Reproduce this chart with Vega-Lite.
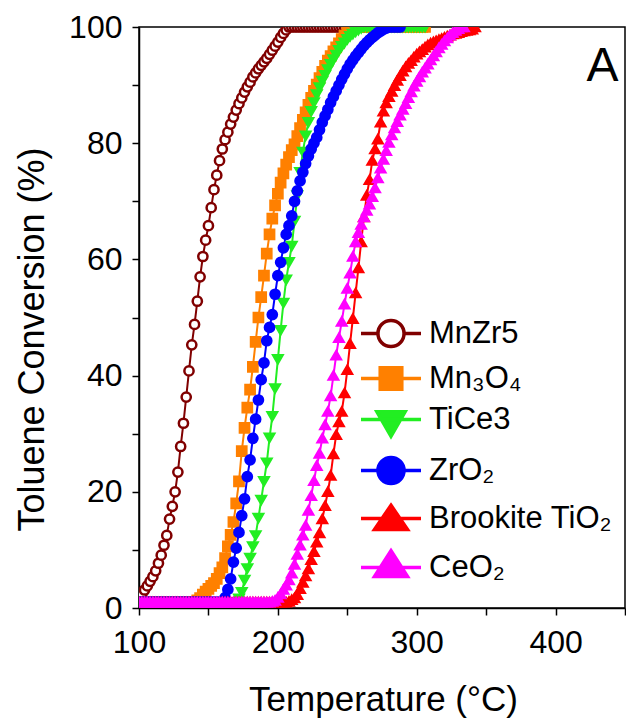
{
  "$schema": "https://vega.github.io/schema/vega-lite/v6.json",
  "width": 486,
  "height": 581,
  "autosize": {"type": "none"},
  "padding": {"left": 139, "top": 27, "right": 1, "bottom": 114},
  "background": "white",
  "data": {"values": [
    {"s":"MnZr5","t":100,"c":1.2},{"s":"MnZr5","t":102,"c":2.3},{"s":"MnZr5","t":104,"c":3.1},{"s":"MnZr5","t":106,"c":3.8},{"s":"MnZr5","t":108,"c":4.6},{"s":"MnZr5","t":110,"c":5.4},{"s":"MnZr5","t":112,"c":6.4},{"s":"MnZr5","t":114,"c":7.7},{"s":"MnZr5","t":116,"c":9.1},{"s":"MnZr5","t":118,"c":10.8},{"s":"MnZr5","t":120,"c":12.5},{"s":"MnZr5","t":122,"c":15.3},{"s":"MnZr5","t":124,"c":17.5},{"s":"MnZr5","t":126,"c":20.0},{"s":"MnZr5","t":128,"c":23.4},{"s":"MnZr5","t":130,"c":27.8},{"s":"MnZr5","t":132,"c":31.8},{"s":"MnZr5","t":134,"c":36.3},{"s":"MnZr5","t":136,"c":40.8},{"s":"MnZr5","t":138,"c":45.3},{"s":"MnZr5","t":140,"c":48.8},{"s":"MnZr5","t":142,"c":52.8},{"s":"MnZr5","t":144,"c":57.0},{"s":"MnZr5","t":146,"c":60.5},{"s":"MnZr5","t":148,"c":63.3},{"s":"MnZr5","t":150,"c":65.8},{"s":"MnZr5","t":152,"c":68.9},{"s":"MnZr5","t":154,"c":72.0},{"s":"MnZr5","t":156,"c":74.5},{"s":"MnZr5","t":158,"c":77.0},{"s":"MnZr5","t":160,"c":79.0},{"s":"MnZr5","t":162,"c":80.6},{"s":"MnZr5","t":164,"c":81.9},{"s":"MnZr5","t":166,"c":83.3},{"s":"MnZr5","t":168,"c":84.5},{"s":"MnZr5","t":170,"c":85.7},{"s":"MnZr5","t":172,"c":86.8},{"s":"MnZr5","t":174,"c":87.8},{"s":"MnZr5","t":176,"c":88.8},{"s":"MnZr5","t":178,"c":89.7},{"s":"MnZr5","t":180,"c":90.5},{"s":"MnZr5","t":182,"c":91.4},{"s":"MnZr5","t":184,"c":92.1},{"s":"MnZr5","t":186,"c":92.8},{"s":"MnZr5","t":188,"c":93.4},{"s":"MnZr5","t":190,"c":94.0},{"s":"MnZr5","t":192,"c":94.6},{"s":"MnZr5","t":194,"c":95.3},{"s":"MnZr5","t":196,"c":96.0},{"s":"MnZr5","t":198,"c":96.7},{"s":"MnZr5","t":200,"c":97.4},{"s":"MnZr5","t":202,"c":98.2},{"s":"MnZr5","t":204,"c":98.9},{"s":"MnZr5","t":206,"c":99.5},{"s":"MnZr5","t":208,"c":100},{"s":"MnZr5","t":210,"c":100},{"s":"MnZr5","t":212,"c":100},{"s":"MnZr5","t":214,"c":100},{"s":"MnZr5","t":216,"c":100},{"s":"MnZr5","t":218,"c":100},{"s":"MnZr5","t":220,"c":100},{"s":"MnZr5","t":222,"c":100},{"s":"MnZr5","t":224,"c":100},{"s":"MnZr5","t":226,"c":100},{"s":"MnZr5","t":228,"c":100},{"s":"MnZr5","t":230,"c":100},{"s":"MnZr5","t":232,"c":100},{"s":"MnZr5","t":234,"c":100},{"s":"MnZr5","t":236,"c":100},{"s":"MnZr5","t":238,"c":100},{"s":"MnZr5","t":240,"c":100},{"s":"MnZr5","t":242,"c":100},{"s":"MnZr5","t":244,"c":100},{"s":"MnZr5","t":246,"c":100},{"s":"MnZr5","t":248,"c":100},{"s":"MnZr5","t":250,"c":100},{"s":"MnZr5","t":252,"c":100},{"s":"MnZr5","t":254,"c":100},{"s":"MnZr5","t":256,"c":100},{"s":"MnZr5","t":258,"c":100},{"s":"MnZr5","t":260,"c":100},{"s":"MnZr5","t":262,"c":100},

    {"s":"Mn₃O₄","t":100,"c":1},{"s":"Mn₃O₄","t":102,"c":1},{"s":"Mn₃O₄","t":104,"c":1},{"s":"Mn₃O₄","t":106,"c":1},{"s":"Mn₃O₄","t":108,"c":1},{"s":"Mn₃O₄","t":110,"c":1},{"s":"Mn₃O₄","t":112,"c":1},{"s":"Mn₃O₄","t":114,"c":1},{"s":"Mn₃O₄","t":116,"c":1},{"s":"Mn₃O₄","t":118,"c":1},{"s":"Mn₃O₄","t":120,"c":1},{"s":"Mn₃O₄","t":122,"c":1},{"s":"Mn₃O₄","t":124,"c":1},{"s":"Mn₃O₄","t":126,"c":1},{"s":"Mn₃O₄","t":128,"c":1},{"s":"Mn₃O₄","t":130,"c":1},{"s":"Mn₃O₄","t":132,"c":1},{"s":"Mn₃O₄","t":134,"c":1},{"s":"Mn₃O₄","t":136,"c":1},{"s":"Mn₃O₄","t":138,"c":1},{"s":"Mn₃O₄","t":140,"c":1},{"s":"Mn₃O₄","t":142,"c":1.3},{"s":"Mn₃O₄","t":144,"c":1.7},{"s":"Mn₃O₄","t":146,"c":2.3},{"s":"Mn₃O₄","t":148,"c":2.8},{"s":"Mn₃O₄","t":150,"c":3.3},{"s":"Mn₃O₄","t":152,"c":3.8},{"s":"Mn₃O₄","t":154,"c":4.3},{"s":"Mn₃O₄","t":156,"c":5.0},{"s":"Mn₃O₄","t":158,"c":6.0},{"s":"Mn₃O₄","t":160,"c":7.0},{"s":"Mn₃O₄","t":162,"c":8.6},{"s":"Mn₃O₄","t":164,"c":10.6},{"s":"Mn₃O₄","t":166,"c":12.6},{"s":"Mn₃O₄","t":168,"c":14.8},{"s":"Mn₃O₄","t":170,"c":18.0},{"s":"Mn₃O₄","t":172,"c":21.8},{"s":"Mn₃O₄","t":174,"c":27.0},{"s":"Mn₃O₄","t":176,"c":31.0},{"s":"Mn₃O₄","t":178,"c":34.5},{"s":"Mn₃O₄","t":180,"c":37.6},{"s":"Mn₃O₄","t":182,"c":41.5},{"s":"Mn₃O₄","t":184,"c":45.8},{"s":"Mn₃O₄","t":186,"c":50.0},{"s":"Mn₃O₄","t":188,"c":53.5},{"s":"Mn₃O₄","t":190,"c":57.2},{"s":"Mn₃O₄","t":192,"c":61.0},{"s":"Mn₃O₄","t":194,"c":64.3},{"s":"Mn₃O₄","t":196,"c":67.0},{"s":"Mn₃O₄","t":198,"c":69.3},{"s":"Mn₃O₄","t":200,"c":71.3},{"s":"Mn₃O₄","t":202,"c":73.2},{"s":"Mn₃O₄","t":204,"c":74.8},{"s":"Mn₃O₄","t":206,"c":76.3},{"s":"Mn₃O₄","t":208,"c":77.6},{"s":"Mn₃O₄","t":210,"c":78.8},{"s":"Mn₃O₄","t":212,"c":79.8},{"s":"Mn₃O₄","t":214,"c":81.2},{"s":"Mn₃O₄","t":216,"c":82.6},{"s":"Mn₃O₄","t":218,"c":84.0},{"s":"Mn₃O₄","t":220,"c":85.3},{"s":"Mn₃O₄","t":222,"c":86.6},{"s":"Mn₃O₄","t":224,"c":87.8},{"s":"Mn₃O₄","t":226,"c":89.0},{"s":"Mn₃O₄","t":228,"c":90.1},{"s":"Mn₃O₄","t":230,"c":91.2},{"s":"Mn₃O₄","t":232,"c":92.3},{"s":"Mn₃O₄","t":234,"c":93.3},{"s":"Mn₃O₄","t":236,"c":94.2},{"s":"Mn₃O₄","t":238,"c":95.0},{"s":"Mn₃O₄","t":240,"c":95.8},{"s":"Mn₃O₄","t":242,"c":96.5},{"s":"Mn₃O₄","t":244,"c":97.2},{"s":"Mn₃O₄","t":246,"c":97.9},{"s":"Mn₃O₄","t":248,"c":98.5},{"s":"Mn₃O₄","t":250,"c":99.0},{"s":"Mn₃O₄","t":252,"c":99.5},{"s":"Mn₃O₄","t":254,"c":99.8},{"s":"Mn₃O₄","t":256,"c":100},{"s":"Mn₃O₄","t":258,"c":100},{"s":"Mn₃O₄","t":260,"c":100},{"s":"Mn₃O₄","t":262,"c":100},{"s":"Mn₃O₄","t":264,"c":100},{"s":"Mn₃O₄","t":266,"c":100},{"s":"Mn₃O₄","t":268,"c":100},{"s":"Mn₃O₄","t":270,"c":100},{"s":"Mn₃O₄","t":272,"c":100},{"s":"Mn₃O₄","t":274,"c":100},{"s":"Mn₃O₄","t":276,"c":100},{"s":"Mn₃O₄","t":278,"c":100},{"s":"Mn₃O₄","t":280,"c":100},{"s":"Mn₃O₄","t":282,"c":100},{"s":"Mn₃O₄","t":284,"c":100},{"s":"Mn₃O₄","t":286,"c":100},{"s":"Mn₃O₄","t":288,"c":100},{"s":"Mn₃O₄","t":290,"c":100},{"s":"Mn₃O₄","t":292,"c":100},{"s":"Mn₃O₄","t":294,"c":100},{"s":"Mn₃O₄","t":296,"c":100},{"s":"Mn₃O₄","t":298,"c":100},{"s":"Mn₃O₄","t":300,"c":100},{"s":"Mn₃O₄","t":302,"c":100},{"s":"Mn₃O₄","t":304,"c":100},{"s":"Mn₃O₄","t":306,"c":100},

    {"s":"TiCe3","t":100,"c":1},{"s":"TiCe3","t":102,"c":1},{"s":"TiCe3","t":104,"c":1},{"s":"TiCe3","t":106,"c":1},{"s":"TiCe3","t":108,"c":1},{"s":"TiCe3","t":110,"c":1},{"s":"TiCe3","t":112,"c":1},{"s":"TiCe3","t":114,"c":1},{"s":"TiCe3","t":116,"c":1},{"s":"TiCe3","t":118,"c":1},{"s":"TiCe3","t":120,"c":1},{"s":"TiCe3","t":122,"c":1},{"s":"TiCe3","t":124,"c":1},{"s":"TiCe3","t":126,"c":1},{"s":"TiCe3","t":128,"c":1},{"s":"TiCe3","t":130,"c":1},{"s":"TiCe3","t":132,"c":1},{"s":"TiCe3","t":134,"c":1},{"s":"TiCe3","t":136,"c":1},{"s":"TiCe3","t":138,"c":1},{"s":"TiCe3","t":140,"c":1},{"s":"TiCe3","t":142,"c":1},{"s":"TiCe3","t":144,"c":1},{"s":"TiCe3","t":146,"c":1},{"s":"TiCe3","t":148,"c":1},{"s":"TiCe3","t":150,"c":1},{"s":"TiCe3","t":152,"c":1},{"s":"TiCe3","t":154,"c":1},{"s":"TiCe3","t":156,"c":1},{"s":"TiCe3","t":158,"c":1},{"s":"TiCe3","t":160,"c":1},{"s":"TiCe3","t":162,"c":1},{"s":"TiCe3","t":164,"c":1},{"s":"TiCe3","t":166,"c":1},{"s":"TiCe3","t":168,"c":1},{"s":"TiCe3","t":170,"c":1},{"s":"TiCe3","t":172,"c":1.6},{"s":"TiCe3","t":174,"c":2.7},{"s":"TiCe3","t":176,"c":4.8},{"s":"TiCe3","t":178,"c":6.8},{"s":"TiCe3","t":180,"c":8.6},{"s":"TiCe3","t":182,"c":10.6},{"s":"TiCe3","t":184,"c":12.5},{"s":"TiCe3","t":186,"c":15.5},{"s":"TiCe3","t":188,"c":18.6},{"s":"TiCe3","t":190,"c":21.8},{"s":"TiCe3","t":192,"c":25.0},{"s":"TiCe3","t":194,"c":29.3},{"s":"TiCe3","t":196,"c":33.0},{"s":"TiCe3","t":198,"c":37.8},{"s":"TiCe3","t":200,"c":42.8},{"s":"TiCe3","t":202,"c":47.8},{"s":"TiCe3","t":204,"c":52.5},{"s":"TiCe3","t":206,"c":56.5},{"s":"TiCe3","t":208,"c":59.5},{"s":"TiCe3","t":210,"c":62.3},{"s":"TiCe3","t":212,"c":66.6},{"s":"TiCe3","t":214,"c":71.0},{"s":"TiCe3","t":216,"c":75.0},{"s":"TiCe3","t":218,"c":78.5},{"s":"TiCe3","t":220,"c":81.3},{"s":"TiCe3","t":222,"c":83.6},{"s":"TiCe3","t":224,"c":85.5},{"s":"TiCe3","t":226,"c":87.0},{"s":"TiCe3","t":228,"c":88.4},{"s":"TiCe3","t":230,"c":89.6},{"s":"TiCe3","t":232,"c":90.7},{"s":"TiCe3","t":234,"c":91.7},{"s":"TiCe3","t":236,"c":92.7},{"s":"TiCe3","t":238,"c":93.6},{"s":"TiCe3","t":240,"c":94.4},{"s":"TiCe3","t":242,"c":95.2},{"s":"TiCe3","t":244,"c":96.0},{"s":"TiCe3","t":246,"c":96.7},{"s":"TiCe3","t":248,"c":97.3},{"s":"TiCe3","t":250,"c":97.9},{"s":"TiCe3","t":252,"c":98.4},{"s":"TiCe3","t":254,"c":98.8},{"s":"TiCe3","t":256,"c":99.2},{"s":"TiCe3","t":258,"c":99.5},{"s":"TiCe3","t":260,"c":99.8},{"s":"TiCe3","t":262,"c":100},{"s":"TiCe3","t":264,"c":100},{"s":"TiCe3","t":266,"c":100},{"s":"TiCe3","t":268,"c":100},{"s":"TiCe3","t":270,"c":100},{"s":"TiCe3","t":272,"c":100},{"s":"TiCe3","t":274,"c":100},{"s":"TiCe3","t":276,"c":100},{"s":"TiCe3","t":278,"c":100},{"s":"TiCe3","t":280,"c":100},{"s":"TiCe3","t":282,"c":100},{"s":"TiCe3","t":284,"c":100},{"s":"TiCe3","t":286,"c":100},{"s":"TiCe3","t":288,"c":100},{"s":"TiCe3","t":290,"c":100},{"s":"TiCe3","t":292,"c":100},{"s":"TiCe3","t":294,"c":100},{"s":"TiCe3","t":296,"c":100},{"s":"TiCe3","t":298,"c":100},{"s":"TiCe3","t":300,"c":100},{"s":"TiCe3","t":302,"c":100},{"s":"TiCe3","t":304,"c":100},{"s":"TiCe3","t":306,"c":100},

    {"s":"ZrO₂","t":100,"c":1},{"s":"ZrO₂","t":102,"c":1},{"s":"ZrO₂","t":104,"c":1},{"s":"ZrO₂","t":106,"c":1},{"s":"ZrO₂","t":108,"c":1},{"s":"ZrO₂","t":110,"c":1},{"s":"ZrO₂","t":112,"c":1},{"s":"ZrO₂","t":114,"c":1},{"s":"ZrO₂","t":116,"c":1},{"s":"ZrO₂","t":118,"c":1},{"s":"ZrO₂","t":120,"c":1},{"s":"ZrO₂","t":122,"c":1},{"s":"ZrO₂","t":124,"c":1},{"s":"ZrO₂","t":126,"c":1},{"s":"ZrO₂","t":128,"c":1},{"s":"ZrO₂","t":130,"c":1},{"s":"ZrO₂","t":132,"c":1},{"s":"ZrO₂","t":134,"c":1},{"s":"ZrO₂","t":136,"c":1},{"s":"ZrO₂","t":138,"c":1},{"s":"ZrO₂","t":140,"c":1},{"s":"ZrO₂","t":142,"c":1},{"s":"ZrO₂","t":144,"c":1},{"s":"ZrO₂","t":146,"c":1},{"s":"ZrO₂","t":148,"c":1},{"s":"ZrO₂","t":150,"c":1},{"s":"ZrO₂","t":152,"c":1},{"s":"ZrO₂","t":154,"c":1},{"s":"ZrO₂","t":156,"c":1},{"s":"ZrO₂","t":158,"c":1},{"s":"ZrO₂","t":160,"c":1},{"s":"ZrO₂","t":162,"c":1.8},{"s":"ZrO₂","t":164,"c":3.2},{"s":"ZrO₂","t":166,"c":5.0},{"s":"ZrO₂","t":168,"c":7.9},{"s":"ZrO₂","t":170,"c":10.3},{"s":"ZrO₂","t":172,"c":13.0},{"s":"ZrO₂","t":174,"c":15.9},{"s":"ZrO₂","t":176,"c":18.8},{"s":"ZrO₂","t":178,"c":22.6},{"s":"ZrO₂","t":180,"c":25.5},{"s":"ZrO₂","t":182,"c":29.2},{"s":"ZrO₂","t":184,"c":32.5},{"s":"ZrO₂","t":186,"c":35.8},{"s":"ZrO₂","t":188,"c":39.3},{"s":"ZrO₂","t":190,"c":42.2},{"s":"ZrO₂","t":192,"c":46.0},{"s":"ZrO₂","t":194,"c":48.3},{"s":"ZrO₂","t":196,"c":50.5},{"s":"ZrO₂","t":198,"c":54.0},{"s":"ZrO₂","t":200,"c":57.2},{"s":"ZrO₂","t":202,"c":59.5},{"s":"ZrO₂","t":204,"c":62.0},{"s":"ZrO₂","t":206,"c":64.3},{"s":"ZrO₂","t":208,"c":65.8},{"s":"ZrO₂","t":210,"c":67.5},{"s":"ZrO₂","t":212,"c":70.0},{"s":"ZrO₂","t":214,"c":71.8},{"s":"ZrO₂","t":216,"c":73.5},{"s":"ZrO₂","t":218,"c":75.0},{"s":"ZrO₂","t":220,"c":76.5},{"s":"ZrO₂","t":222,"c":77.8},{"s":"ZrO₂","t":224,"c":79.0},{"s":"ZrO₂","t":226,"c":80.0},{"s":"ZrO₂","t":228,"c":81.0},{"s":"ZrO₂","t":230,"c":82.3},{"s":"ZrO₂","t":232,"c":83.6},{"s":"ZrO₂","t":234,"c":84.7},{"s":"ZrO₂","t":236,"c":85.8},{"s":"ZrO₂","t":238,"c":87.0},{"s":"ZrO₂","t":240,"c":88.0},{"s":"ZrO₂","t":242,"c":89.0},{"s":"ZrO₂","t":244,"c":90.0},{"s":"ZrO₂","t":246,"c":91.0},{"s":"ZrO₂","t":248,"c":91.9},{"s":"ZrO₂","t":250,"c":92.8},{"s":"ZrO₂","t":252,"c":93.6},{"s":"ZrO₂","t":254,"c":94.3},{"s":"ZrO₂","t":256,"c":95.0},{"s":"ZrO₂","t":258,"c":95.6},{"s":"ZrO₂","t":260,"c":96.2},{"s":"ZrO₂","t":262,"c":96.8},{"s":"ZrO₂","t":264,"c":97.3},{"s":"ZrO₂","t":266,"c":97.8},{"s":"ZrO₂","t":268,"c":98.2},{"s":"ZrO₂","t":270,"c":98.6},{"s":"ZrO₂","t":272,"c":99.0},{"s":"ZrO₂","t":274,"c":99.3},{"s":"ZrO₂","t":276,"c":99.6},{"s":"ZrO₂","t":278,"c":99.8},{"s":"ZrO₂","t":280,"c":100},{"s":"ZrO₂","t":282,"c":100},{"s":"ZrO₂","t":284,"c":100},{"s":"ZrO₂","t":286,"c":100},{"s":"ZrO₂","t":288,"c":100},

    {"s":"Brookite TiO₂","t":100,"c":1},{"s":"Brookite TiO₂","t":102,"c":1},{"s":"Brookite TiO₂","t":104,"c":1},{"s":"Brookite TiO₂","t":106,"c":1},{"s":"Brookite TiO₂","t":108,"c":1},{"s":"Brookite TiO₂","t":110,"c":1},{"s":"Brookite TiO₂","t":112,"c":1},{"s":"Brookite TiO₂","t":114,"c":1},{"s":"Brookite TiO₂","t":116,"c":1},{"s":"Brookite TiO₂","t":118,"c":1},{"s":"Brookite TiO₂","t":120,"c":1},{"s":"Brookite TiO₂","t":122,"c":1},{"s":"Brookite TiO₂","t":124,"c":1},{"s":"Brookite TiO₂","t":126,"c":1},{"s":"Brookite TiO₂","t":128,"c":1},{"s":"Brookite TiO₂","t":130,"c":1},{"s":"Brookite TiO₂","t":132,"c":1},{"s":"Brookite TiO₂","t":134,"c":1},{"s":"Brookite TiO₂","t":136,"c":1},{"s":"Brookite TiO₂","t":138,"c":1},{"s":"Brookite TiO₂","t":140,"c":1},{"s":"Brookite TiO₂","t":142,"c":1},{"s":"Brookite TiO₂","t":144,"c":1},{"s":"Brookite TiO₂","t":146,"c":1},{"s":"Brookite TiO₂","t":148,"c":1},{"s":"Brookite TiO₂","t":150,"c":1},{"s":"Brookite TiO₂","t":152,"c":1},{"s":"Brookite TiO₂","t":154,"c":1},{"s":"Brookite TiO₂","t":156,"c":1},{"s":"Brookite TiO₂","t":158,"c":1},{"s":"Brookite TiO₂","t":160,"c":1},{"s":"Brookite TiO₂","t":162,"c":1},{"s":"Brookite TiO₂","t":164,"c":1},{"s":"Brookite TiO₂","t":166,"c":1},{"s":"Brookite TiO₂","t":168,"c":1},{"s":"Brookite TiO₂","t":170,"c":1},{"s":"Brookite TiO₂","t":172,"c":1},{"s":"Brookite TiO₂","t":174,"c":1},{"s":"Brookite TiO₂","t":176,"c":1},{"s":"Brookite TiO₂","t":178,"c":1},{"s":"Brookite TiO₂","t":180,"c":1},{"s":"Brookite TiO₂","t":182,"c":1},{"s":"Brookite TiO₂","t":184,"c":1},{"s":"Brookite TiO₂","t":186,"c":1},{"s":"Brookite TiO₂","t":188,"c":1},{"s":"Brookite TiO₂","t":190,"c":1},{"s":"Brookite TiO₂","t":192,"c":1},{"s":"Brookite TiO₂","t":194,"c":1},{"s":"Brookite TiO₂","t":196,"c":1},{"s":"Brookite TiO₂","t":198,"c":1},{"s":"Brookite TiO₂","t":200,"c":1},{"s":"Brookite TiO₂","t":202,"c":1},{"s":"Brookite TiO₂","t":204,"c":1},{"s":"Brookite TiO₂","t":206,"c":1},{"s":"Brookite TiO₂","t":208,"c":1.1},{"s":"Brookite TiO₂","t":210,"c":1.4},{"s":"Brookite TiO₂","t":212,"c":1.7},{"s":"Brookite TiO₂","t":214,"c":2.3},{"s":"Brookite TiO₂","t":216,"c":3.3},{"s":"Brookite TiO₂","t":218,"c":4.4},{"s":"Brookite TiO₂","t":220,"c":5.5},{"s":"Brookite TiO₂","t":222,"c":6.7},{"s":"Brookite TiO₂","t":224,"c":8.3},{"s":"Brookite TiO₂","t":226,"c":9.7},{"s":"Brookite TiO₂","t":228,"c":11.3},{"s":"Brookite TiO₂","t":230,"c":12.9},{"s":"Brookite TiO₂","t":232,"c":15.3},{"s":"Brookite TiO₂","t":234,"c":17.6},{"s":"Brookite TiO₂","t":236,"c":20.0},{"s":"Brookite TiO₂","t":238,"c":22.8},{"s":"Brookite TiO₂","t":240,"c":26.5},{"s":"Brookite TiO₂","t":242,"c":29.8},{"s":"Brookite TiO₂","t":244,"c":32.0},{"s":"Brookite TiO₂","t":246,"c":33.8},{"s":"Brookite TiO₂","t":248,"c":37.0},{"s":"Brookite TiO₂","t":250,"c":41.0},{"s":"Brookite TiO₂","t":252,"c":45.5},{"s":"Brookite TiO₂","t":254,"c":49.8},{"s":"Brookite TiO₂","t":256,"c":54.2},{"s":"Brookite TiO₂","t":258,"c":58.5},{"s":"Brookite TiO₂","t":260,"c":63.0},{"s":"Brookite TiO₂","t":262,"c":67.3},{"s":"Brookite TiO₂","t":264,"c":71.0},{"s":"Brookite TiO₂","t":266,"c":73.7},{"s":"Brookite TiO₂","t":268,"c":77.0},{"s":"Brookite TiO₂","t":270,"c":79.0},{"s":"Brookite TiO₂","t":272,"c":80.7},{"s":"Brookite TiO₂","t":274,"c":83.6},{"s":"Brookite TiO₂","t":276,"c":85.5},{"s":"Brookite TiO₂","t":278,"c":86.9},{"s":"Brookite TiO₂","t":280,"c":88.0},{"s":"Brookite TiO₂","t":282,"c":88.9},{"s":"Brookite TiO₂","t":284,"c":89.9},{"s":"Brookite TiO₂","t":286,"c":90.8},{"s":"Brookite TiO₂","t":288,"c":91.6},{"s":"Brookite TiO₂","t":290,"c":92.4},{"s":"Brookite TiO₂","t":292,"c":93.1},{"s":"Brookite TiO₂","t":294,"c":93.7},{"s":"Brookite TiO₂","t":296,"c":94.2},{"s":"Brookite TiO₂","t":298,"c":94.8},{"s":"Brookite TiO₂","t":300,"c":95.3},{"s":"Brookite TiO₂","t":302,"c":95.7},{"s":"Brookite TiO₂","t":304,"c":96.1},{"s":"Brookite TiO₂","t":306,"c":96.5},{"s":"Brookite TiO₂","t":308,"c":96.9},{"s":"Brookite TiO₂","t":310,"c":97.2},{"s":"Brookite TiO₂","t":312,"c":97.4},{"s":"Brookite TiO₂","t":314,"c":97.6},{"s":"Brookite TiO₂","t":316,"c":97.8},{"s":"Brookite TiO₂","t":318,"c":98.0},{"s":"Brookite TiO₂","t":320,"c":98.2},{"s":"Brookite TiO₂","t":322,"c":98.4},{"s":"Brookite TiO₂","t":324,"c":98.6},{"s":"Brookite TiO₂","t":326,"c":98.8},{"s":"Brookite TiO₂","t":328,"c":98.9},{"s":"Brookite TiO₂","t":330,"c":99.0},{"s":"Brookite TiO₂","t":332,"c":99.2},{"s":"Brookite TiO₂","t":334,"c":99.3},{"s":"Brookite TiO₂","t":336,"c":99.4},{"s":"Brookite TiO₂","t":338,"c":99.5},{"s":"Brookite TiO₂","t":340,"c":99.6},{"s":"Brookite TiO₂","t":342,"c":100},

    {"s":"CeO₂","t":100,"c":1},{"s":"CeO₂","t":102,"c":1},{"s":"CeO₂","t":104,"c":1},{"s":"CeO₂","t":106,"c":1},{"s":"CeO₂","t":108,"c":1},{"s":"CeO₂","t":110,"c":1},{"s":"CeO₂","t":112,"c":1},{"s":"CeO₂","t":114,"c":1},{"s":"CeO₂","t":116,"c":1},{"s":"CeO₂","t":118,"c":1},{"s":"CeO₂","t":120,"c":1},{"s":"CeO₂","t":122,"c":1},{"s":"CeO₂","t":124,"c":1},{"s":"CeO₂","t":126,"c":1},{"s":"CeO₂","t":128,"c":1},{"s":"CeO₂","t":130,"c":1},{"s":"CeO₂","t":132,"c":1},{"s":"CeO₂","t":134,"c":1},{"s":"CeO₂","t":136,"c":1},{"s":"CeO₂","t":138,"c":1},{"s":"CeO₂","t":140,"c":1},{"s":"CeO₂","t":142,"c":1},{"s":"CeO₂","t":144,"c":1},{"s":"CeO₂","t":146,"c":1},{"s":"CeO₂","t":148,"c":1},{"s":"CeO₂","t":150,"c":1},{"s":"CeO₂","t":152,"c":1},{"s":"CeO₂","t":154,"c":1},{"s":"CeO₂","t":156,"c":1},{"s":"CeO₂","t":158,"c":1},{"s":"CeO₂","t":160,"c":1},{"s":"CeO₂","t":162,"c":1},{"s":"CeO₂","t":164,"c":1},{"s":"CeO₂","t":166,"c":1},{"s":"CeO₂","t":168,"c":1},{"s":"CeO₂","t":170,"c":1},{"s":"CeO₂","t":172,"c":1},{"s":"CeO₂","t":174,"c":1},{"s":"CeO₂","t":176,"c":1},{"s":"CeO₂","t":178,"c":1},{"s":"CeO₂","t":180,"c":1},{"s":"CeO₂","t":182,"c":1},{"s":"CeO₂","t":184,"c":1},{"s":"CeO₂","t":186,"c":1},{"s":"CeO₂","t":188,"c":1},{"s":"CeO₂","t":190,"c":1},{"s":"CeO₂","t":192,"c":1},{"s":"CeO₂","t":194,"c":1},{"s":"CeO₂","t":196,"c":1.1},{"s":"CeO₂","t":198,"c":1.3},{"s":"CeO₂","t":200,"c":1.8},{"s":"CeO₂","t":202,"c":2.4},{"s":"CeO₂","t":204,"c":3.2},{"s":"CeO₂","t":206,"c":3.9},{"s":"CeO₂","t":208,"c":4.8},{"s":"CeO₂","t":210,"c":6.0},{"s":"CeO₂","t":212,"c":7.5},{"s":"CeO₂","t":214,"c":9.2},{"s":"CeO₂","t":216,"c":10.8},{"s":"CeO₂","t":218,"c":12.5},{"s":"CeO₂","t":220,"c":14.2},{"s":"CeO₂","t":222,"c":16.8},{"s":"CeO₂","t":224,"c":19.3},{"s":"CeO₂","t":226,"c":21.9},{"s":"CeO₂","t":228,"c":24.5},{"s":"CeO₂","t":230,"c":26.6},{"s":"CeO₂","t":232,"c":29.2},{"s":"CeO₂","t":234,"c":31.5},{"s":"CeO₂","t":236,"c":33.8},{"s":"CeO₂","t":238,"c":36.5},{"s":"CeO₂","t":240,"c":40.0},{"s":"CeO₂","t":242,"c":43.5},{"s":"CeO₂","t":244,"c":46.5},{"s":"CeO₂","t":246,"c":49.3},{"s":"CeO₂","t":248,"c":52.3},{"s":"CeO₂","t":250,"c":55.0},{"s":"CeO₂","t":252,"c":57.6},{"s":"CeO₂","t":254,"c":60.5},{"s":"CeO₂","t":256,"c":63.0},{"s":"CeO₂","t":258,"c":64.6},{"s":"CeO₂","t":260,"c":66.0},{"s":"CeO₂","t":262,"c":67.3},{"s":"CeO₂","t":264,"c":68.4},{"s":"CeO₂","t":266,"c":69.5},{"s":"CeO₂","t":268,"c":70.8},{"s":"CeO₂","t":270,"c":72.3},{"s":"CeO₂","t":272,"c":74.0},{"s":"CeO₂","t":274,"c":75.7},{"s":"CeO₂","t":276,"c":77.2},{"s":"CeO₂","t":278,"c":78.7},{"s":"CeO₂","t":280,"c":80.1},{"s":"CeO₂","t":282,"c":81.4},{"s":"CeO₂","t":284,"c":82.6},{"s":"CeO₂","t":286,"c":83.7},{"s":"CeO₂","t":288,"c":84.8},{"s":"CeO₂","t":290,"c":85.8},{"s":"CeO₂","t":292,"c":86.8},{"s":"CeO₂","t":294,"c":87.8},{"s":"CeO₂","t":296,"c":88.8},{"s":"CeO₂","t":298,"c":89.8},{"s":"CeO₂","t":300,"c":90.6},{"s":"CeO₂","t":302,"c":91.4},{"s":"CeO₂","t":304,"c":92.2},{"s":"CeO₂","t":306,"c":92.9},{"s":"CeO₂","t":308,"c":93.6},{"s":"CeO₂","t":310,"c":94.3},{"s":"CeO₂","t":312,"c":95.0},{"s":"CeO₂","t":314,"c":95.7},{"s":"CeO₂","t":316,"c":96.4},{"s":"CeO₂","t":318,"c":97.0},{"s":"CeO₂","t":320,"c":97.6},{"s":"CeO₂","t":322,"c":98.1},{"s":"CeO₂","t":324,"c":98.6},{"s":"CeO₂","t":326,"c":99.0},{"s":"CeO₂","t":328,"c":99.4},{"s":"CeO₂","t":330,"c":99.7},{"s":"CeO₂","t":332,"c":100},{"s":"CeO₂","t":334,"c":100}
  ]},
  "encoding": {
    "x": {
      "field": "t", "type": "quantitative",
      "scale": {"domain": [100, 450], "nice": false, "zero": false},
      "axis": {
        "orient": "bottom",
        "title": "Temperature (°C)",
        "values": [100, 150, 200, 250, 300, 350, 400, 450],
        "labelExpr": "datum.value % 100 === 0 && datum.value < 450 ? datum.label : ''",
        "labelPadding": 12,
        "titleFontSize": 35,
        "titleX": 244,
        "titleY": 102,
        "titleBaseline": "alphabetic"
      }
    },
    "y": {
      "field": "c", "type": "quantitative",
      "scale": {"domain": [0, 100], "nice": false},
      "axis": {
        "title": "Toluene Conversion (%)",
        "values": [0, 10, 20, 30, 40, 50, 60, 70, 80, 90, 100],
        "labelExpr": "datum.value % 20 === 0 ? datum.label : ''",
        "labelPadding": 10,
        "titleFontSize": 36,
        "titleAngle": 270,
        "titleX": -96,
        "titleY": 312,
        "titleBaseline": "alphabetic"
      }
    }
  },
  "layer": [
    {
      "mark": {"type": "line", "strokeWidth": 2, "clip": true},
      "encoding": {
        "x": {
          "field": "t", "type": "quantitative",
          "scale": {"domain": [100, 450], "nice": false, "zero": false},
          "axis": {
            "orient": "top", "title": "A", "labels": false, "ticks": false, "domain": false, "grid": false,
            "titleFontSize": 48, "titleAngle": 0, "titleAlign": "right", "titleBaseline": "alphabetic",
            "titleX": 479, "titleY": 53
          }
        },
        "stroke": {
          "field": "s", "type": "nominal",
          "scale": {"domain": ["MnZr5", "Mn₃O₄", "TiCe3", "ZrO₂", "Brookite TiO₂", "CeO₂"], "range": ["#800000", "#FF8000", "#22EE22", "#0000FF", "#FF0000", "#FF00FF"]},
          "legend": {
            "orient": "none", "legendX": 235, "legendY": 289.5, "title": null, "padding": 0,
            "symbolSize": 900, "symbolStrokeWidth": 3.5, "symbolOpacity": 1,
            "labelFont": "Liberation Sans", "labelFontSize": 31, "labelColor": "black", "labelLimit": 0, "labelOffset": 21, "rowPadding": 6,
            "encode": {"symbols": {"update": {
              "shape": {"signal": "datum.value === 'MnZr5' ? 'M-2,0H-0.87M0.87,0H2M-0.87,0A0.87,0.87,0,1,1,0.87,0A0.87,0.87,0,1,1,-0.87,0Z' : datum.value === 'Mn₃O₄' ? 'M-2,0H2M-0.72,-0.72H0.72V0.72H-0.72Z' : datum.value === 'TiCe3' ? 'M-2,0H2M-0.94,-0.52H0.94L0,1.12Z' : datum.value === 'ZrO₂' ? 'M-2,0H2M-0.87,0A0.87,0.87,0,1,1,0.87,0A0.87,0.87,0,1,1,-0.87,0Z' : datum.value === 'Brookite TiO₂' ? 'M-2,0H2M0,-0.88L1.1,0.74H-1.1Z' : 'M-2,0H2M0,-1.12L1.1,0.6H-1.1Z'"}
            }}}
          }
        }
      }
    },
    {
      "mark": {"type": "point", "filled": true, "size": 85, "strokeWidth": 2.5, "opacity": 1, "clip": true},
      "encoding": {
        "fill": {
          "field": "s", "type": "nominal",
          "scale": {"domain": ["MnZr5", "Mn₃O₄", "TiCe3", "ZrO₂", "Brookite TiO₂", "CeO₂"], "range": ["#FFFFFF", "#FF8000", "#22EE22", "#0000FF", "#FF0000", "#FF00FF"]},
          "legend": {
            "orient": "none", "legendX": 235, "legendY": 289.5, "title": null, "padding": 0,
            "symbolSize": 900, "symbolStrokeWidth": 3.5, "symbolOpacity": 1,
            "labelFont": "Liberation Sans", "labelFontSize": 31, "labelColor": "black", "labelLimit": 0, "labelOffset": 21, "rowPadding": 6,
            "encode": {"symbols": {"update": {
              "shape": {"signal": "datum.value === 'MnZr5' ? 'M-2,0H-0.87M0.87,0H2M-0.87,0A0.87,0.87,0,1,1,0.87,0A0.87,0.87,0,1,1,-0.87,0Z' : datum.value === 'Mn₃O₄' ? 'M-2,0H2M-0.72,-0.72H0.72V0.72H-0.72Z' : datum.value === 'TiCe3' ? 'M-2,0H2M-0.94,-0.52H0.94L0,1.12Z' : datum.value === 'ZrO₂' ? 'M-2,0H2M-0.87,0A0.87,0.87,0,1,1,0.87,0A0.87,0.87,0,1,1,-0.87,0Z' : datum.value === 'Brookite TiO₂' ? 'M-2,0H2M0,-0.88L1.1,0.74H-1.1Z' : 'M-2,0H2M0,-1.12L1.1,0.6H-1.1Z'"}
            }}}
          }
        },
        "stroke": {
          "field": "s", "type": "nominal",
          "scale": {"domain": ["MnZr5", "Mn₃O₄", "TiCe3", "ZrO₂", "Brookite TiO₂", "CeO₂"], "range": ["#800000", "#FF8000", "#22EE22", "#0000FF", "#FF0000", "#FF00FF"]},
          "legend": {
            "orient": "none", "legendX": 235, "legendY": 289.5, "title": null, "padding": 0,
            "symbolSize": 900, "symbolStrokeWidth": 3.5, "symbolOpacity": 1,
            "labelFont": "Liberation Sans", "labelFontSize": 31, "labelColor": "black", "labelLimit": 0, "labelOffset": 21, "rowPadding": 6,
            "encode": {"symbols": {"update": {
              "shape": {"signal": "datum.value === 'MnZr5' ? 'M-2,0H-0.87M0.87,0H2M-0.87,0A0.87,0.87,0,1,1,0.87,0A0.87,0.87,0,1,1,-0.87,0Z' : datum.value === 'Mn₃O₄' ? 'M-2,0H2M-0.72,-0.72H0.72V0.72H-0.72Z' : datum.value === 'TiCe3' ? 'M-2,0H2M-0.94,-0.52H0.94L0,1.12Z' : datum.value === 'ZrO₂' ? 'M-2,0H2M-0.87,0A0.87,0.87,0,1,1,0.87,0A0.87,0.87,0,1,1,-0.87,0Z' : datum.value === 'Brookite TiO₂' ? 'M-2,0H2M0,-0.88L1.1,0.74H-1.1Z' : 'M-2,0H2M0,-1.12L1.1,0.6H-1.1Z'"}
            }}}
          }
        },
        "shape": {
          "field": "s", "type": "nominal",
          "scale": {"domain": ["CeO₂", "Brookite TiO₂", "ZrO₂", "TiCe3", "Mn₃O₄", "MnZr5"], "range": ["triangle-up", "triangle-up", "circle", "triangle-down", "square", "circle"]},
          "legend": null
        }
      }
    }
  ],
  "config": {
    "font": "Liberation Sans",
    "view": {"stroke": "black", "strokeWidth": 1.5},
    "axis": {
      "grid": false,
      "domainColor": "black", "domainWidth": 1.5,
      "tickColor": "black", "tickWidth": 1.5, "tickSize": 7,
      "labelFont": "Liberation Sans", "labelFontSize": 32, "labelColor": "black",
      "labelOverlap": false, "labelFlush": false,
      "titleFont": "Liberation Sans", "titleFontWeight": "normal", "titleColor": "black"
    }
  }
}
